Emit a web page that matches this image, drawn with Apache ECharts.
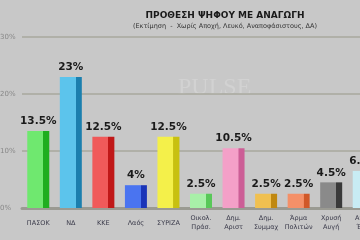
<!DOCTYPE html>
<html><head><meta charset="utf-8">
<script src="https://cdn.jsdelivr.net/npm/echarts@6/dist/echarts.min.js"></script>
<style>html,body{margin:0;padding:0;background:#c8c8c8}#c{width:360px;height:240px}</style>
</head><body><div id="c"></div>
<script>
var categories = ['ΠΑΣΟΚ','ΝΔ','ΚΚΕ','Λαός','ΣΥΡΙΖΑ','Οικολ.\nΠράσ.','Δημ.\nΑριστ','Δημ.\nΣυμμαχ','Άρμα\nΠολιτών','Χρυσή\nΑυγή','Ανεξ.\nΈλλ.'];
var values = [13.5, 23, 12.5, 4, 12.5, 2.5, 10.5, 2.5, 2.5, 4.5, 6.5];
var colors = [['#6fe86f','#1fae1f'],['#5cc4ec','#1b7fae'],['#f05a5a','#c01818'],['#4a74f0','#1a34b8'],['#f4f04a','#c8c010'],['#a8f0a8','#58c858'],['#f4a0c8','#cc5e96'],['#f0c050','#c08810'],['#f49068','#d05828'],['#8a8a8a','#3a3a3a'],['#c8ecf4','#80c0d4']];
var yTicks = [0, 10, 20, 30];

var chart = echarts.init(document.getElementById('c'));
chart.setOption({
  backgroundColor: '#c8c8c8',
  animation: false,
  title: {
    text: 'ΠΡΟΘΕΣΗ ΨΗΦΟΥ ΜΕ ΑΝΑΓΩΓΗ',
    subtext: '(Εκτίμηση  -  Χωρίς Αποχή, Λευκό, Αναποφάσιστους, ΔΑ)',
    left: 220, top: 6, textAlign: 'center', itemGap: 3,
    textStyle: {fontFamily: 'DejaVu Sans', fontSize: 9, fontWeight: 'bold', color: '#1a1a1a'},
    subtextStyle: {fontFamily: 'DejaVu Sans', fontSize: 6.5, color: '#333'}
  },
  graphic: [{
    type: 'text', left: 178, top: 76,
    style: {text: 'PULSE', fontFamily: 'Liberation Serif', fontSize: 24, fill: 'rgba(255,255,255,0.18)'}
  }],
  grid: {left: 22, top: 37, width: 358, height: 171, outerBoundsMode: 'none', containLabel: false},
  xAxis: {
    type: 'category', data: categories,
    axisLine: {lineStyle: {color: '#9a9a92', width: 3}},
    axisTick: {show: false},
    axisLabel: {fontFamily: 'DejaVu Sans', fontSize: 6.5, color: '#3a3a4a', lineHeight: 9, margin: 15, verticalAlign: 'middle', interval: 0}
  },
  yAxis: {
    type: 'value', min: 0, max: 30, interval: 10,
    axisLabel: {formatter: '{value}%', fontFamily: 'DejaVu Sans', fontSize: 7, color: '#888', margin: 4, align: 'left', padding: [0,0,0,-18]},
    axisLine: {show: false}, axisTick: {show: false},
    splitLine: {lineStyle: {color: '#a8a89e', width: 1.5}}
  },
  series: [{
    type: 'bar', barWidth: 22,
    data: values.map(function(v, i){
      return {value: v, itemStyle: {color: new echarts.graphic.LinearGradient(0,0,1,0,[
        {offset: 0, color: colors[i][0]}, {offset: 0.72, color: colors[i][0]},
        {offset: 0.73, color: colors[i][1]}, {offset: 1, color: colors[i][1]}])}};
    }),
    label: {show: true, position: 'top', distance: 4, formatter: '{c}%', fontFamily: 'DejaVu Sans', fontSize: 10.5, fontWeight: 'bold', color: '#1a1a1a'}
  }]
});
</script></body></html>
